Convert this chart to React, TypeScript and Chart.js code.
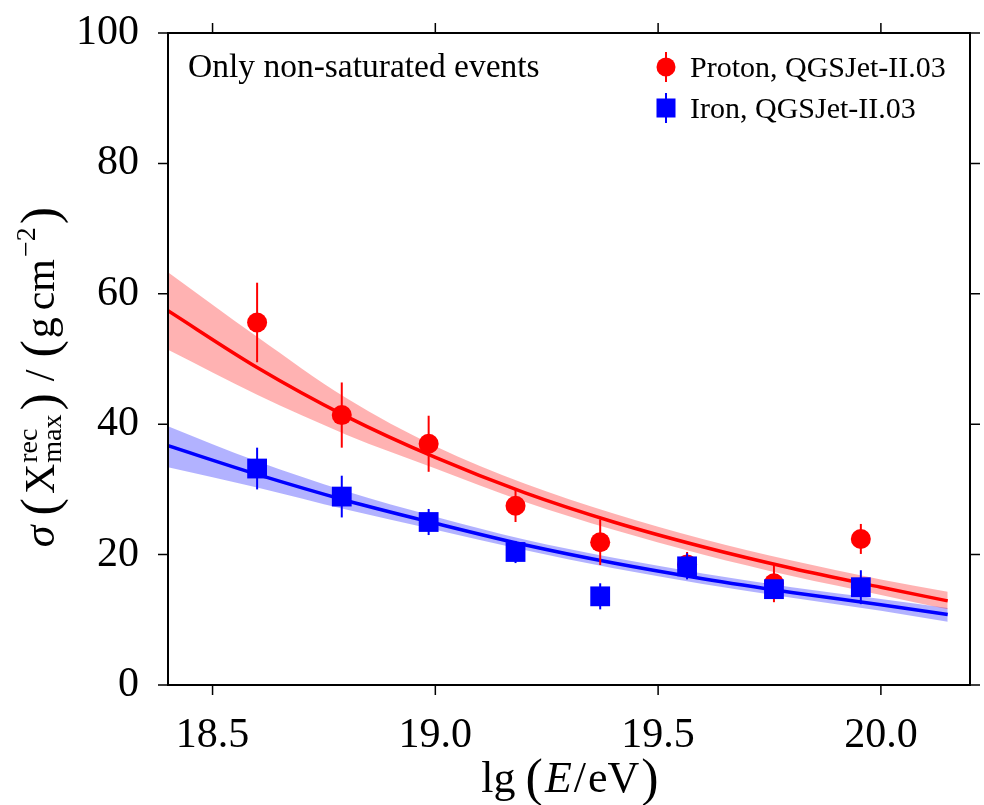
import React, { useEffect, useRef } from 'react';
import { Chart, registerables } from 'chart.js';

Chart.register(...registerables);

// ---------------- data ----------------
const energyBins = [18.6, 18.79, 18.985, 19.18, 19.37, 19.565, 19.76, 19.955];
const protonSigma = [55.6, 41.4, 37.0, 27.5, 21.9, 18.5, 15.6, 22.4];
const protonErr = [6.1, 5.0, 4.3, 2.5, 3.5, 1.9, 2.9, 2.3];
const ironSigma = [33.2, 28.9, 25.0, 20.4, 13.6, 18.2, 14.7, 15.0];
const ironErr = [3.2, 3.2, 2.0, 1.7, 2.0, 2.0, 1.3, 2.6];

const fitEnergy = [18.4, 18.6, 18.8, 19.0, 19.2, 19.4, 19.6, 19.8, 20.0, 20.15];
const protonFit = [57.4, 48.7, 41.2, 34.9, 29.5, 25.0, 21.2, 17.9, 15.0, 12.9];
const protonFitUpper = [63.3, 53.4, 44.0, 36.6, 30.9, 26.3, 22.4, 19.1, 16.2, 14.3];
const protonFitLower = [51.4, 44.5, 38.4, 33.2, 28.1, 23.8, 20.0, 16.7, 13.8, 11.6];
const ironFit = [36.7, 32.3, 28.3, 24.8, 21.5, 18.7, 16.3, 14.2, 12.3, 10.8];
const ironFitUpper = [39.7, 34.3, 29.7, 25.8, 22.3, 19.5, 17.1, 15.0, 13.2, 11.8];
const ironFitLower = [33.4, 30.3, 26.9, 23.8, 20.7, 17.9, 15.5, 13.4, 11.4, 9.7];

const xTicks = [18.5, 19.0, 19.5, 20.0];
const xTickLabels = ['18.5', '19.0', '19.5', '20.0'];
const yTicks = [0, 20, 40, 60, 80, 100];
const yTickLabels = ['0', '20', '40', '60', '80', '100'];

const annotationText = 'Only non-saturated events';
const legendLabels = ['Proton, QGSJet-II.03', 'Iron, QGSJet-II.03'];

const RED = '#ff0000';
const BLUE = '#0000ff';
const RED_BAND = 'rgba(255,0,0,0.3)';
const BLUE_BAND = 'rgba(0,0,255,0.3)';
const FONT = '"Liberation Serif", "Times New Roman", serif';

const pts = (xs: number[], ys: number[]) => xs.map((x, i) => ({ x, y: ys[i] }));

type Seg = { t: string; size: number; style?: string; dy?: number; gap?: number; noAdvance?: boolean; w?: number };

function drawRich(ctx: CanvasRenderingContext2D, segs: Seg[], cx: number, baseY: number) {
  let total = 0;
  for (const s of segs) {
    ctx.font = `${s.style || ''} ${s.size}px ${FONT}`;
    s.w = ctx.measureText(s.t).width;
    if (!s.noAdvance) total += s.w + (s.gap || 0);
  }
  let x = cx - total / 2;
  ctx.textAlign = 'left';
  ctx.textBaseline = 'alphabetic';
  for (const s of segs) {
    ctx.font = `${s.style || ''} ${s.size}px ${FONT}`;
    ctx.fillText(s.t, x, baseY + (s.dy || 0));
    if (!s.noAdvance) x += (s.w || 0) + (s.gap || 0);
  }
}

const errorBarPlugin = {
  id: 'errorBars',
  beforeDatasetDraw(chart: any, args: any) {
    const ds = chart.data.datasets[args.index];
    if (!ds.errors) return;
    const ctx = chart.ctx;
    const xs = chart.scales.x;
    const ys = chart.scales.y;
    ctx.save();
    ctx.strokeStyle = ds.errorColor;
    ctx.lineWidth = 2;
    ds.data.forEach((p: any, i: number) => {
      const x = xs.getPixelForValue(p.x);
      ctx.beginPath();
      ctx.moveTo(x, ys.getPixelForValue(p.y - ds.errors[i]));
      ctx.lineTo(x, ys.getPixelForValue(p.y + ds.errors[i]));
      ctx.stroke();
    });
    ctx.restore();
  },
};

const decorPlugin = {
  id: 'decor',
  afterDraw(chart: any) {
    const ctx: CanvasRenderingContext2D = chart.ctx;
    const { left, right, top, bottom } = chart.chartArea;
    const xs = chart.scales.x;
    const ys = chart.scales.y;
    ctx.save();
    // frame
    ctx.strokeStyle = '#000';
    ctx.lineWidth = 2;
    ctx.strokeRect(left, top, right - left, bottom - top);
    // ticks on all four sides (outside)
    ctx.lineWidth = 1.5;
    const TL = 10;
    xTicks.forEach((v) => {
      const x = xs.getPixelForValue(v);
      ctx.beginPath();
      ctx.moveTo(x, bottom); ctx.lineTo(x, bottom + TL);
      ctx.moveTo(x, top); ctx.lineTo(x, top - TL);
      ctx.stroke();
    });
    yTicks.forEach((v) => {
      const y = ys.getPixelForValue(v);
      ctx.beginPath();
      ctx.moveTo(left, y); ctx.lineTo(left - TL, y);
      ctx.moveTo(right, y); ctx.lineTo(right + TL, y);
      ctx.stroke();
    });

    ctx.fillStyle = '#000';
    // annotation
    ctx.font = `33.5px ${FONT}`;
    ctx.textAlign = 'left';
    ctx.textBaseline = 'alphabetic';
    ctx.fillText(annotationText, 188, 77);

    // legend
    const mx = 666;
    const rows = [67, 108];
    ctx.strokeStyle = RED; ctx.fillStyle = RED; ctx.lineWidth = 2;
    ctx.beginPath(); ctx.moveTo(mx, rows[0] - 15); ctx.lineTo(mx, rows[0] + 15); ctx.stroke();
    ctx.beginPath(); ctx.arc(mx, rows[0], 9.5, 0, Math.PI * 2); ctx.fill();
    ctx.strokeStyle = BLUE; ctx.fillStyle = BLUE;
    ctx.beginPath(); ctx.moveTo(mx, rows[1] - 15); ctx.lineTo(mx, rows[1] + 15); ctx.stroke();
    ctx.fillRect(mx - 9.5, rows[1] - 9.5, 19, 19);
    ctx.fillStyle = '#000';
    ctx.font = `30px ${FONT}`;
    ctx.fillText(legendLabels[0], 690, 77);
    ctx.fillText(legendLabels[1], 690, 118);

    // x-axis title
    drawRich(ctx, [
      { t: 'lg', size: 44, gap: 10 },
      { t: '(', size: 52, dy: 3, gap: 2 },
      { t: 'E', size: 44, style: 'italic', gap: 2 },
      { t: '/', size: 44, gap: 2 },
      { t: 'eV', size: 44, gap: 2 },
      { t: ')', size: 52, dy: 3 },
    ], 570, 792);

    // y-axis title (rotated)
    ctx.save();
    ctx.translate(54, 377);
    ctx.rotate(-Math.PI / 2);
    drawRich(ctx, [
      { t: 'σ', size: 44, style: 'italic', gap: 10 },
      { t: '(', size: 52, dy: 3, gap: 4 },
      { t: 'X', size: 42, gap: 1 },
      { t: 'rec', size: 28, dy: -17, noAdvance: true },
      { t: 'max', size: 28, dy: 7, gap: 4 },
      { t: ')', size: 52, dy: 3, gap: 12 },
      { t: '/', size: 42, gap: 12 },
      { t: '(', size: 52, dy: 3, gap: 2 },
      { t: 'g', size: 42, gap: 7 },
      { t: 'cm', size: 42, gap: 2 },
      { t: '−2', size: 28, dy: -19, gap: 3 },
      { t: ')', size: 52, dy: 3 },
    ], 0, 0);
    ctx.restore();
    ctx.restore();
  },
};

export default function App() {
  const ref = useRef<HTMLCanvasElement | null>(null);

  useEffect(() => {
    if (!ref.current) return;
    const lineCommon = {
      pointRadius: 0,
      cubicInterpolationMode: 'monotone' as const,
    };
    const chart = new Chart(ref.current, {
      type: 'line',
      data: {
        datasets: [
          { ...lineCommon, data: pts(fitEnergy, protonFitUpper), borderWidth: 0, borderColor: 'transparent', backgroundColor: RED_BAND, fill: '+1', order: 20 },
          { ...lineCommon, data: pts(fitEnergy, protonFitLower), borderWidth: 0, borderColor: 'transparent', fill: false, order: 20 },
          { ...lineCommon, data: pts(fitEnergy, ironFitUpper), borderWidth: 0, borderColor: 'transparent', backgroundColor: BLUE_BAND, fill: '+1', order: 21 },
          { ...lineCommon, data: pts(fitEnergy, ironFitLower), borderWidth: 0, borderColor: 'transparent', fill: false, order: 21 },
          { ...lineCommon, data: pts(fitEnergy, protonFit), borderColor: RED, borderWidth: 3.5, fill: false, order: 10 },
          { ...lineCommon, data: pts(fitEnergy, ironFit), borderColor: BLUE, borderWidth: 3.5, fill: false, order: 9 },
          {
            data: pts(energyBins, protonSigma), showLine: false, pointStyle: 'circle', pointRadius: 10,
            pointBackgroundColor: RED, pointBorderWidth: 0, borderColor: RED, order: 2,
            errors: protonErr, errorColor: RED,
          } as any,
          {
            data: pts(energyBins, ironSigma), showLine: false, pointStyle: 'rect', pointRadius: 14,
            pointBackgroundColor: BLUE, pointBorderWidth: 0, borderColor: BLUE, order: 1,
            errors: ironErr, errorColor: BLUE,
          } as any,
        ],
      },
      options: {
        animation: false,
        responsive: false,
        devicePixelRatio: 1,
        layout: { padding: { left: 0, right: 9, top: 33, bottom: 0 } },
        plugins: { legend: { display: false }, tooltip: { enabled: false } },
        scales: {
          x: {
            type: 'linear',
            min: 18.4,
            max: 20.2,
            afterBuildTicks: (s: any) => { s.ticks = xTicks.map((v) => ({ value: v })); },
            afterFit: (s: any) => { s.height = 120; s.paddingLeft = 0; s.paddingRight = 0; },
            grid: { display: false },
            border: { display: false },
            ticks: {
              callback: (_v: any, i: number) => xTickLabels[i],
              font: { family: FONT, size: 42 },
              color: '#000',
              padding: 18,
              maxRotation: 0,
              autoSkip: false,
            },
          },
          y: {
            type: 'linear',
            min: 0,
            max: 100,
            afterBuildTicks: (s: any) => { s.ticks = yTicks.map((v) => ({ value: v })); },
            afterFit: (s: any) => { s.width = 168; s.paddingTop = 0; s.paddingBottom = 0; },
            grid: { display: false },
            border: { display: false },
            ticks: {
              callback: (_v: any, i: number) => yTickLabels[i],
              font: { family: FONT, size: 42 },
              color: '#000',
              padding: 21,
            },
          },
        },
      },
      plugins: [errorBarPlugin, decorPlugin],
    });
    return () => chart.destroy();
  }, []);

  return (
    <div style={{ position: 'fixed', left: 0, top: 0, width: 984, height: 805, background: '#fff' }}>
      <canvas ref={ref} width={984} height={805} style={{ width: 984, height: 805, display: 'block' }} />
    </div>
  );
}
